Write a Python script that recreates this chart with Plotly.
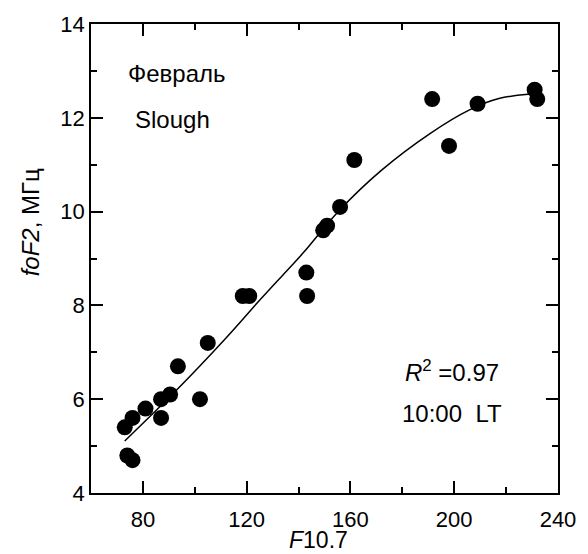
import plotly.graph_objects as go

# observed data: F10.7 vs foF2 (MHz)
f107 = [73, 76, 74, 76, 81, 87, 87, 90.5, 93.5, 102, 105, 118.5, 121,
        143, 143.3, 149.5, 151, 156, 161.5, 191.5, 198, 209, 231, 232]
fof2 = [5.4, 5.6, 4.8, 4.7, 5.8, 6.0, 5.6, 6.1, 6.7, 6.0, 7.2, 8.2, 8.2,
        8.7, 8.2, 9.6, 9.7, 10.1, 11.1, 12.4, 11.4, 12.3, 12.6, 12.4]

# regression curve
fit_x = [73, 92.7, 111.6, 124.2, 135.5, 141.8, 155.6, 171.9, 190.8, 205.9, 217.2, 228.5, 232]
fit_y = [5.11, 6.18, 7.28, 8.06, 8.74, 9.12, 10.02, 10.88, 11.67, 12.17, 12.41, 12.5, 12.5]

FONT = "Liberation Sans, Arial, Helvetica, sans-serif"

fig = go.Figure()
fig.add_trace(go.Scatter(x=fit_x, y=fit_y, mode="lines",
                         line=dict(color="black", width=1.5, shape="spline", smoothing=1.0),
                         hoverinfo="skip", showlegend=False))
fig.add_trace(go.Scatter(x=f107, y=fof2, mode="markers",
                         marker=dict(color="black", size=16, line=dict(width=0)),
                         showlegend=False))

axis_common = dict(showgrid=False, zeroline=False, showline=True, linecolor="black",
                   linewidth=1.5, mirror="ticks", ticks="inside", ticklen=12,
                   tickwidth=1.5, tickcolor="black",
                   tickfont=dict(family=FONT, size=22, color="black"))

fig.update_xaxes(range=[60, 240], tickmode="linear", tick0=80, dtick=40,
                 ticklabelstandoff=6,
                 minor=dict(dtick=20, tick0=60, ticks="inside", ticklen=6, tickwidth=1.5, tickcolor="black"),
                 **axis_common)
fig.update_yaxes(range=[4, 14], tickmode="linear", tick0=4, dtick=2,
                 minor=dict(dtick=1, tick0=4, ticks="inside", ticklen=6, tickwidth=1.5, tickcolor="black"),
                 **axis_common)

ann_font = dict(family=FONT, size=24, color="black")
annotations = [
    dict(text="Февраль", x=127, y=70, xanchor="left", yanchor="middle"),
    dict(text="Slough", x=134, y=116, xanchor="left", yanchor="middle"),
    dict(text="<i>R</i><sup>2</sup> =0.97", x=408, y=370, xanchor="left", yanchor="middle"),
    dict(text="10:00  LT", x=405, y=413, xanchor="left", yanchor="middle"),
]
for a in annotations:
    fig.add_annotation(xref="paper", yref="paper", showarrow=False, font=ann_font,
                       text=a["text"],
                       x=(a["x"] - 91) / (566 - 91),
                       y=(493 - a["y"]) / (493 - 20),
                       xanchor=a["xanchor"], yanchor=a["yanchor"])
fig.add_annotation(xref="paper", yref="paper", showarrow=False,
                   font=dict(family=FONT, size=23, color="black"),
                   text="<i>F</i>10.7",
                   x=(322 - 91) / (566 - 91), y=(493 - 540) / (493 - 20),
                   xanchor="center", yanchor="middle")
fig.add_annotation(xref="paper", yref="paper", showarrow=False,
                   font=dict(family=FONT, size=24, color="black"),
                   text="<i>foF2</i>, МГц", textangle=-90,
                   x=(29 - 91) / (566 - 91), y=(493 - 220) / (493 - 20),
                   xanchor="center", yanchor="middle")

fig.update_layout(width=588, height=554, margin=dict(l=91, r=22, t=20, b=61),
                  paper_bgcolor="white", plot_bgcolor="white",
                  font=dict(family=FONT, color="black"))

fig.write_html("out.html", config={"displayModeBar": False},
               post_script="document.body.style.margin='0';document.body.style.overflow='hidden';")
